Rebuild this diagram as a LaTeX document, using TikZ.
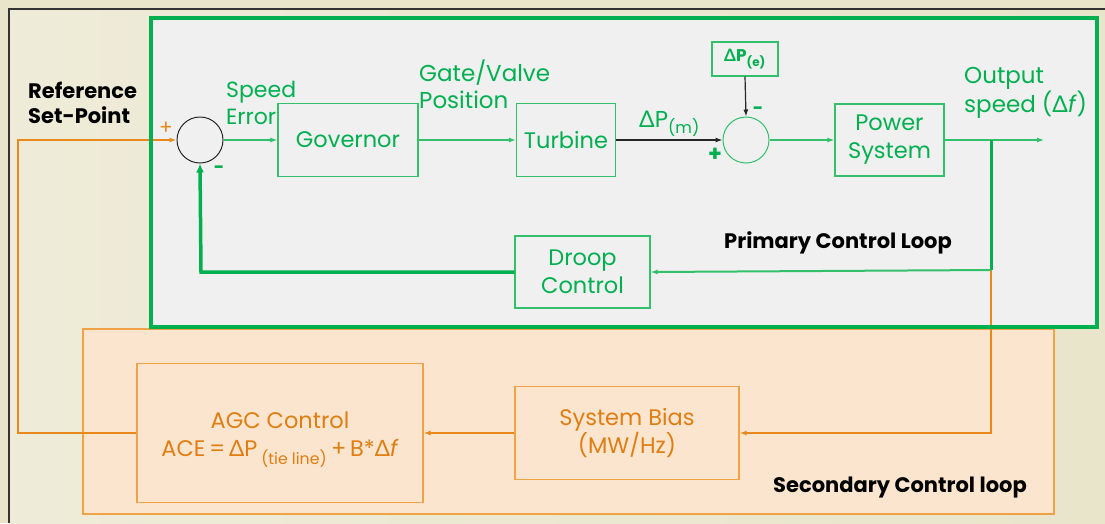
\documentclass[tikz,border=0pt]{standalone}
\usepackage{fontspec}
\setmainfont{Poppins}
\newfontfamily\grk{Lato}
\usetikzlibrary{arrows.meta}
\definecolor{ggreen}{HTML}{00B050}
\definecolor{gline}{HTML}{33C06A}
\definecolor{oline}{HTML}{E8891C}
\definecolor{obox}{HTML}{F0A244}
\definecolor{ofill}{HTML}{FBE5CF}
\definecolor{otext}{HTML}{E07E12}
\definecolor{pfill}{HTML}{F0F0F0}
\definecolor{bgbeige}{HTML}{E9E5CB}
\definecolor{bglight}{HTML}{EEEBD8}
\newcommand{\Dl}{{\grk Δ}}
\tikzset{
  x=1pt, y=-1pt,
  gbox/.style={draw=gline, line width=1.2pt, align=center,
    text=ggreen, font=\fontsize{22.5}{28}\selectfont, inner sep=0pt},
  obx/.style={draw=obox, line width=1.2pt, align=center, text=otext,
    font=\fontsize{22.5}{28}\selectfont, inner sep=0pt},
  sumc/.style={circle, minimum size=46pt, inner sep=0pt, line width=1pt},
  gtip/.style={-{Latex[length=7pt,width=5pt]}},
  glab/.style={text=ggreen, font=\fontsize{23}{27}\selectfont, align=left, inner sep=0pt},
  blab/.style={text=black, font=\bfseries\fontsize{21}{27}\selectfont, inner sep=0pt},
}
\begin{document}
\begin{tikzpicture}
\useasboundingbox (0,0) rectangle (1105,523);
% page background and frame
\fill[bgbeige] (0,0) rectangle (1105,523);
\fill[left color=bglight, right color=bgbeige] (9,9) rectangle (1105,523);
\draw[black!80, line width=1.5pt] (9,523) -- (9,9) -- (1105,9);

% secondary loop area
\draw[obox, fill=ofill, line width=1.5pt] (83,329) rectangle (1054,514);
% primary loop area
\fill[pfill] (151,18) rectangle (1097,327);

% blocks
\node[sumc, draw=black!85] (s1) at (200,140) {};
\node[gbox, minimum width=140pt, minimum height=73pt] (gov) at (348,140) {Governor};
\node[gbox, minimum width=99pt, minimum height=73pt] (tur) at (566,140) {Turbine};
\node[sumc, draw=gline] (s2) at (746,140) {};
\node[gbox, minimum width=66pt, minimum height=34pt, font=\bfseries\fontsize{17}{18}\selectfont] (pe) at (745,59) {\Dl P\textsubscript{(e)}};
\node[gbox, minimum width=109pt, minimum height=72pt] (ps) at (889.5,140) {Power\\System};
\node[gbox, minimum width=135pt, minimum height=72pt] (droop) at (582.5,272) {Droop\\Control};
\node[obx, fill=ofill, minimum width=224pt, minimum height=93pt] (bias) at (627,433) {System Bias\\(MW/Hz)};
\node[obx, fill=ofill, minimum width=286pt, minimum height=139pt] (agc) at (280,433)
  {\rule{0pt}{30pt}AGC Control\\ACE\,=\,\Dl P\,\textsubscript{(tie line)}\,+\,B*\Dl\textit{f}};

% branch points
\coordinate (br) at (991,140);
\coordinate (brd) at (991,270);
\coordinate (out) at (1044,140);
\coordinate (fbc) at (201,272);
\coordinate (rfb) at (18,433);
\coordinate (rft) at (18,140);
\coordinate (obr) at (991,433);

% connectors
\draw[gline, line width=1.2pt, gtip] (s1.east) -- (gov.west);
\draw[gline, line width=1.2pt, gtip] (gov.east) -- (tur.west);
\draw[black!85, line width=1.2pt, gtip] (tur.east) -- (s2.west);
\draw[black!85, line width=1.2pt, gtip] (pe.south) -- (s2.north);
\draw[gline, line width=1.2pt, gtip] (s2.east) -- (ps.west);
\draw[gline, line width=1.2pt, gtip] (ps.east) -- (out);
\draw[oline, line width=1.8pt, gtip] (brd) -- (obr) -- (bias.east);
\draw[oline, line width=1.8pt, gtip] (bias.west) -- (agc.east);
\draw[oline, line width=1.8pt, gtip] (agc.west) -- (rfb) -- (rft) -- (s1.west);
\draw[ggreen, line width=3pt] (br) -- (brd);
\draw[gline, line width=2pt, gtip] (brd) -- (droop.east);
\draw[ggreen, line width=3.5pt, -{Latex[length=9pt,width=8pt]}] (droop.west) -- (fbc) -- (s1.south);

% primary loop border on top
\draw[ggreen, line width=4pt] (151,18) rectangle (1097,327);

% labels
\node[blab, align=left, anchor=west] (refsp) at (28,103) {Reference\\[-2pt]Set-Point};
\node[text=oline, font=\fontsize{20}{20}\selectfont, inner sep=0pt] (pl1) at (166,128) {+};
\node[text=ggreen, font=\bfseries\fontsize{18}{18}\selectfont, inner sep=0pt] (mi1) at (219,170) {-};
\node[glab, anchor=west, font=\fontsize{22}{27}\selectfont] (se) at (226,103) {Speed\\Error};
\node[glab, anchor=west] (gvp) at (419,84) {Gate/Valve\\Position};
\node[glab, anchor=west] (pm) at (639,124) {\Dl P\textsubscript{(m)}};
\node[text=ggreen, font=\bfseries\fontsize{22}{22}\selectfont, inner sep=0pt] (pl2) at (715,155) {+};
\node[text=ggreen, font=\bfseries\fontsize{18}{18}\selectfont, inner sep=0pt] (mi2) at (758,111) {-};
\node[glab, anchor=west] (os) at (964,93) {Output\\speed (\Dl\textit{f})};
\node[blab] (pcl) at (838,243) {Primary Control Loop};
\node[blab] (scl) at (900,488) {Secondary Control loop};
\end{tikzpicture}
\end{document}
